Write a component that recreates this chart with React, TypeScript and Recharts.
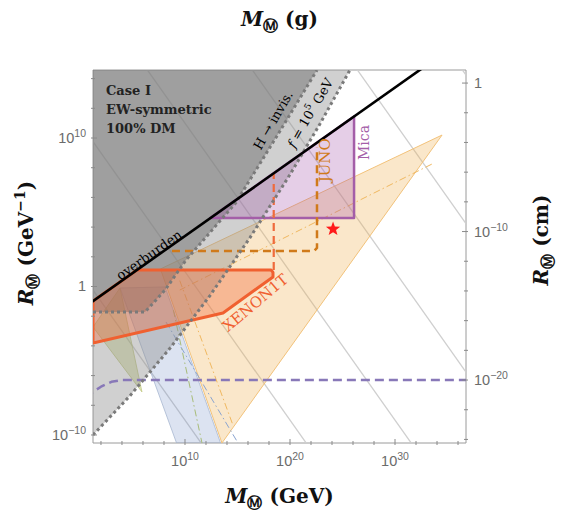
import React from "react";
import { ComposedChart, Scatter, XAxis, YAxis } from "recharts";

// everything is in log10 units: x = log10(M / GeV), y = log10(R / GeV^-1)
const GEV_PER_GRAM_LOG = 23.75;
const GEVINV_PER_CM_LOG = 13.7;

const xDomain: [number, number] = [1.24, 36.76];
const yDomain: [number, number] = [-10.54, 14.58];

const gevTicks = [2, 4, 6, 8, 10, 12, 14, 16, 18, 20, 22, 24, 26, 28, 30, 32, 34, 36];
const gramExponents = [-20, -18, -16, -14, -12, -10, -8, -6, -4, -2, 0, 2, 4, 6, 8, 10, 12];
const radiusTicks = [-10, -8, -6, -4, -2, 0, 2, 4, 6, 8, 10, 12, 14];
const cmExponents = [-24, -22, -20, -18, -16, -14, -12, -10, -8, -6, -4, -2, 0];

type Pt = { x: number; y: number };

// constant M*R guide lines
const guide1: Pt[] = [{ x: -20, y: 21 }, { x: 40, y: -39 }];
const guide2: Pt[] = [{ x: -20, y: 31 }, { x: 40, y: -29 }];
const guide3: Pt[] = [{ x: -20, y: 41 }, { x: 50, y: -29 }];
const guide4: Pt[] = [{ x: 0, y: 31 }, { x: 50, y: -19 }];
const guide5: Pt[] = [{ x: 10, y: 31 }, { x: 50, y: -9 }];
const guide6: Pt[] = [{ x: 20, y: 31 }, { x: 50, y: 1 }];

// f = 1e5 GeV boundary (light gray above it)
const fLine: Pt[] = [
  { x: 1.24, y: -10.0 }, { x: 4.76, y: -7.36 }, { x: 8.57, y: -4.16 }, { x: 12.38, y: -0.61 },
  { x: 16.19, y: 3.29 }, { x: 20.0, y: 7.54 }, { x: 22.86, y: 10.96 }, { x: 25.71, y: 14.58 },
];
const lightGray: Pt[] = [...fLine, { x: 0, y: 16 }, { x: 0, y: -10.0 }];

// H -> invisible boundary (dark gray above it)
const hInvis: Pt[] = [
  { x: 1.24, y: -1.72 }, { x: 6.19, y: -1.72 }, { x: 8.1, y: -0.24 }, { x: 10.1, y: 1.79 },
  { x: 14.8, y: 5.6 }, { x: 18.7, y: 10.07 }, { x: 22.57, y: 14.58 },
];
const darkGray: Pt[] = [{ x: 0, y: -1.72 }, ...hInvis, { x: 0, y: 16 }];

const tan: Pt[] = [{ x: 34.48, y: 10.2 }, { x: 13.52, y: -10.54 }, { x: 7.66, y: 1.18 }];
const tanInner: Pt[] = [{ x: 33.5, y: 8.24 }, { x: 9.5, y: -0.24 }];
const tanSteep: Pt[] = [{ x: 9.5, y: 0.4 }, { x: 14.6, y: -9.4 }];
const blue: Pt[] = [{ x: 3.81, y: -0.1 }, { x: 8.1, y: -0.03 }, { x: 13.52, y: -10.8 }, { x: 9.33, y: -10.8 }];
const blueInner: Pt[] = [{ x: 8.2, y: -2.4 }, { x: 15.05, y: -10.54 }];
const green: Pt[] = [{ x: 1.24, y: -2.73 }, { x: 3.81, y: -0.1 }, { x: 5.9, y: -7.1 }];
const greenInner: Pt[] = [{ x: 8.9, y: -1.6 }, { x: 11.62, y: -10.54 }];

const xenon: Pt[] = [
  { x: 1.24, y: -0.98 }, { x: 5.42, y: 1.11 }, { x: 18.2, y: 1.11 }, { x: 18.38, y: 0.95 },
  { x: 18.38, y: 0.64 }, { x: 13.62, y: -1.78 }, { x: 1.24, y: -3.8 },
];
const xenonReach: Pt[] = [{ x: 18.45, y: 1.11 }, { x: 18.45, y: 7.6 }];
const mica: Pt[] = [{ x: 12.4, y: 4.61 }, { x: 26.1, y: 4.61 }, { x: 26.1, y: 11.45 }];
const juno: Pt[] = [{ x: 8.76, y: 2.39 }, { x: 22.3, y: 2.39 }, { x: 22.57, y: 2.6 }, { x: 22.57, y: 9.4 }];
const overburden: Pt[] = [{ x: 0, y: -1.6 }, { x: 34, y: 15.4 }];
const surface: Pt[] = [
  { x: 0.5, y: -7.45 }, { x: 1.24, y: -7.1 }, { x: 2.0, y: -6.75 }, { x: 3.0, y: -6.42 },
  { x: 4.0, y: -6.3 }, { x: 38, y: -6.3 },
];
const benchmark: Pt[] = [{ x: 24.1, y: 3.87 }];

const noteOverburden: Pt[] = [{ x: 6.57, y: 2.12 }];
const noteHInvis: Pt[] = [{ x: 18.4, y: 11.2 }];
const noteF: Pt[] = [{ x: 21.9, y: 11.7 }];
const noteJuno: Pt[] = [{ x: 23.33, y: 8.5 }];
const noteMica: Pt[] = [{ x: 27.0, y: 9.7 }];
const noteXenon: Pt[] = [{ x: 16.7, y: -1.1 }];

const serif = "'DejaVu Serif', 'Liberation Serif', serif";
const sans = "'Liberation Sans', Arial, sans-serif";

const noDot = () => <g />;

function outline(fill: string, fillOpacity: number, stroke: string, strokeWidth: number, closed = true, dash?: string) {
  return (props: any) => {
    const pts: { x: number; y: number }[] = props.points ?? [];
    if (!pts.length) return <g />;
    const d = pts.map((p, i) => `${i ? "L" : "M"}${p.x},${p.y}`).join("") + (closed ? "Z" : "");
    return (
      <path
        d={d}
        fill={fill}
        fillOpacity={fillOpacity}
        stroke={stroke}
        strokeWidth={strokeWidth}
        strokeDasharray={dash}
        strokeLinejoin="round"
      />
    );
  };
}

function note(text: React.ReactNode, angle: number, color: string, size = 13, weight: any = "normal") {
  return (props: any) => (
    <text
      x={props.cx}
      y={props.cy}
      transform={`rotate(${angle} ${props.cx} ${props.cy})`}
      textAnchor="middle"
      dominantBaseline="central"
      fill={color}
      fontFamily={serif}
      fontSize={size}
      fontWeight={weight}
    >
      {text}
    </text>
  );
}

const starShape = (props: any) => {
  const { cx, cy } = props;
  const pts: string[] = [];
  for (let i = 0; i < 10; i++) {
    const r = i % 2 === 0 ? 7.5 : 3.1;
    const a = -Math.PI / 2 + (i * Math.PI) / 5;
    pts.push(`${cx + r * Math.cos(a)},${cy + r * Math.sin(a)}`);
  }
  return <polygon points={pts.join(" ")} fill="#ff1a1a" />;
};

const power = (e: number) =>
  e === 0 ? (
    <tspan>1</tspan>
  ) : (
    <>
      <tspan>10</tspan>
      <tspan dy={-6} fontSize={10.5}>
        {e < 0 ? `\u2212${-e}` : e}
      </tspan>
    </>
  );

const tickStyle = { fill: "#6b6b6b", fontFamily: sans, fontSize: 14.5 };

const BottomTick = (props: any) => {
  const { x, y, payload } = props;
  const v = Math.round(payload.value);
  const major = v % 10 === 0;
  return (
    <g>
      <line x1={x} x2={x} y1={y} y2={y - (major ? 6 : 4)} stroke="#8a8a8a" />
      {major && (
        <text x={x} y={y + 21} textAnchor="middle" {...tickStyle}>
          {power(v)}
        </text>
      )}
    </g>
  );
};

const TopTick = (props: any) => {
  const { x, y, payload } = props;
  const v = Math.round(payload.value - GEV_PER_GRAM_LOG);
  const major = v % 10 === 0;
  return (
    <g>
      <line x1={x} x2={x} y1={y} y2={y + (major ? 6 : 4)} stroke="#8a8a8a" />
      {major && (
        <text x={x} y={y - 6} textAnchor="middle" {...tickStyle}>
          {power(v)}
        </text>
      )}
    </g>
  );
};

const LeftTick = (props: any) => {
  const { x, y, payload } = props;
  const v = Math.round(payload.value);
  const major = v % 10 === 0;
  return (
    <g>
      <line x1={x} x2={x + (major ? 6 : 4)} y1={y} y2={y} stroke="#8a8a8a" />
      {major && (
        <text x={x - 5} y={y + 5} textAnchor="end" {...tickStyle}>
          {power(v)}
        </text>
      )}
    </g>
  );
};

const RightTick = (props: any) => {
  const { x, y, payload } = props;
  const v = Math.round(payload.value - GEVINV_PER_CM_LOG);
  const major = v % 10 === 0;
  return (
    <g>
      <line x1={x} x2={x - (major ? 6 : 4)} y1={y} y2={y} stroke="#8a8a8a" />
      {major && (
        <text x={x + 6} y={y + 5} textAnchor="start" {...tickStyle}>
          {power(v)}
        </text>
      )}
    </g>
  );
};

const titleStyle = { fontFamily: serif, fontSize: 20, fontWeight: "bold" as const, fill: "#111" };
const Sub = () => (
  <tspan dy={5} fontSize={15} fontStyle="normal">
    {"\u24C2"}
  </tspan>
);

const BottomTitle = ({ viewBox }: any) => (
  <text x={viewBox.x + viewBox.width / 2} y={503} textAnchor="middle" {...titleStyle}>
    <tspan fontStyle="italic">M</tspan>
    <Sub />
    <tspan dy={-5}> (GeV)</tspan>
  </text>
);
const TopTitle = ({ viewBox }: any) => (
  <text x={viewBox.x + viewBox.width / 2} y={26} textAnchor="middle" {...titleStyle}>
    <tspan fontStyle="italic">M</tspan>
    <Sub />
    <tspan dy={-5}> (g)</tspan>
  </text>
);
const LeftTitle = () => (
  <text x={0} y={0} transform="translate(33 243) rotate(-90)" textAnchor="middle" {...titleStyle}>
    <tspan fontStyle="italic">R</tspan>
    <Sub />
    <tspan dy={-5}> (GeV</tspan>
    <tspan dy={-8} fontSize={14}>{"\u22121"}</tspan>
    <tspan dy={8}>)</tspan>
  </text>
);
const RightTitle = () => (
  <text x={0} y={0} transform="translate(548 240) rotate(-90)" textAnchor="middle" {...titleStyle}>
    <tspan fontStyle="italic">R</tspan>
    <Sub />
    <tspan dy={-5}> (cm)</tspan>
  </text>
);

export default function App() {
  const gramTicks = gramExponents.map((g) => g + GEV_PER_GRAM_LOG);
  const cmTicks = cmExponents.map((c) => c + GEVINV_PER_CM_LOG);
  const ax = { xAxisId: "gev", yAxisId: "rad", isAnimationActive: false, shape: noDot, lineType: "joint" as const };

  return (
    <div style={{ position: "absolute", left: 0, top: 0, background: "#fff" }}>
      <ComposedChart width={561} height={518} margin={{ top: 40, right: 55, bottom: 45, left: 53 }}>
        <XAxis
          xAxisId="gev"
          dataKey="x"
          type="number"
          domain={xDomain}
          allowDataOverflow
          ticks={gevTicks}
          interval={0}
          tickSize={0}
          tickLine={false}
          tick={<BottomTick />}
          axisLine={{ stroke: "#9a9a9a" }}
          height={30}
          label={<BottomTitle />}
        />
        <XAxis
          xAxisId="top"
          orientation="top"
          type="number"
          domain={xDomain}
          allowDataOverflow
          ticks={gramTicks}
          interval={0}
          tickSize={0}
          tickLine={false}
          tick={<TopTick />}
          axisLine={{ stroke: "#9a9a9a" }}
          height={30}
          label={<TopTitle />}
        />
        <YAxis
          yAxisId="rad"
          dataKey="y"
          type="number"
          domain={yDomain}
          allowDataOverflow
          ticks={radiusTicks}
          interval={0}
          tickSize={0}
          tickLine={false}
          tick={<LeftTick />}
          axisLine={{ stroke: "#9a9a9a" }}
          width={40}
          label={<LeftTitle />}
        />
        <YAxis
          yAxisId="cm"
          orientation="right"
          type="number"
          domain={yDomain}
          allowDataOverflow
          ticks={cmTicks}
          interval={0}
          tickSize={0}
          tickLine={false}
          tick={<RightTick />}
          axisLine={{ stroke: "#9a9a9a" }}
          width={40}
          label={<RightTitle />}
        />

        <Scatter data={guide1} {...ax} line={outline("none", 0, "#cfcfcf", 1.3, false)} />
        <Scatter data={guide2} {...ax} line={outline("none", 0, "#cfcfcf", 1.3, false)} />
        <Scatter data={guide3} {...ax} line={outline("none", 0, "#cfcfcf", 1.3, false)} />
        <Scatter data={guide4} {...ax} line={outline("none", 0, "#cfcfcf", 1.3, false)} />
        <Scatter data={guide5} {...ax} line={outline("none", 0, "#cfcfcf", 1.3, false)} />
        <Scatter data={guide6} {...ax} line={outline("none", 0, "#cfcfcf", 1.3, false)} />

        <Scatter data={tan} {...ax} line={outline("#f0b050", 0.3, "#f2c27a", 1)} />
        <Scatter data={tanInner} {...ax} line={outline("none", 0, "#f0b860", 1, false, "7 3 1.5 3")} />
        <Scatter data={tanSteep} {...ax} line={outline("none", 0, "#f0b860", 1, false, "7 3 1.5 3")} />
        <Scatter data={blue} {...ax} line={outline("#6080c0", 0.22, "#a8b8d0", 0.8)} />
        <Scatter data={blueInner} {...ax} line={outline("none", 0, "#8aa4d0", 1, false, "7 3 1.5 3")} />
        <Scatter data={green} {...ax} line={outline("#a0b030", 0.3, "#c0c880", 0.8)} />
        <Scatter data={greenInner} {...ax} line={outline("none", 0, "#a8bc78", 1, false, "7 3 1.5 3")} />
        <Scatter data={lightGray} {...ax} line={outline("#909090", 0.42, "none", 0)} />
        <Scatter data={darkGray} {...ax} line={outline("#777777", 0.55, "none", 0)} />
        <Scatter data={xenon} {...ax} line={outline("#f06030", 0.35, "#f06030", 3)} />
        <Scatter data={mica} {...ax} line={outline("#a050a8", 0.28, "#a45ea8", 2.5)} />

        <Scatter data={xenonReach} {...ax} line={outline("none", 0, "#ef6a3c", 2.2, false, "8 5")} />
        <Scatter data={juno} {...ax} line={outline("none", 0, "#d07a1a", 2.5, false, "8 5")} />
        <Scatter data={surface} {...ax} line={outline("none", 0, "#8878b8", 2.5, false, "9 5")} />
        <Scatter data={hInvis} {...ax} line={outline("none", 0, "#7a7a7a", 3, false, "3 3")} />
        <Scatter data={fLine} {...ax} line={outline("none", 0, "#7a7a7a", 3, false, "3 3")} />
        <Scatter data={overburden} {...ax} line={outline("none", 0, "#000", 2.6, false)} />

        <Scatter data={noteOverburden} xAxisId="gev" yAxisId="rad" isAnimationActive={false} shape={note("overburden", -35, "#000")} />
        <Scatter data={noteHInvis} xAxisId="gev" yAxisId="rad" isAnimationActive={false} shape={note("H \u2192 invis.", -60, "#000")} />
        <Scatter
          data={noteF}
          xAxisId="gev"
          yAxisId="rad"
          isAnimationActive={false}
          shape={note(
            <>
              <tspan fontStyle="italic">f</tspan> = 10<tspan dy={-5} fontSize={9}>5</tspan>
              <tspan dy={5}> GeV</tspan>
            </>,
            -60,
            "#000"
          )}
        />
        <Scatter data={noteJuno} xAxisId="gev" yAxisId="rad" isAnimationActive={false} shape={note("JUNO", -90, "#d07a1a", 15)} />
        <Scatter data={noteMica} xAxisId="gev" yAxisId="rad" isAnimationActive={false} shape={note("Mica", -90, "#a45ea8", 14)} />
        <Scatter data={noteXenon} xAxisId="gev" yAxisId="rad" isAnimationActive={false} shape={note("XENON1T", -40, "#f06030", 15)} />
        <Scatter data={benchmark} xAxisId="gev" yAxisId="rad" isAnimationActive={false} shape={starShape} />
      </ComposedChart>
      <svg width={561} height={518} style={{ position: "absolute", left: 0, top: 0, pointerEvents: "none" }}>
        <text fontFamily={serif} fontSize={13} fontWeight="bold" fill="#222">
          <tspan x={106} y={95}>Case I</tspan>
          <tspan x={106} y={114}>EW-symmetric</tspan>
          <tspan x={106} y={133}>100% DM</tspan>
        </text>
      </svg>
    </div>
  );
}
